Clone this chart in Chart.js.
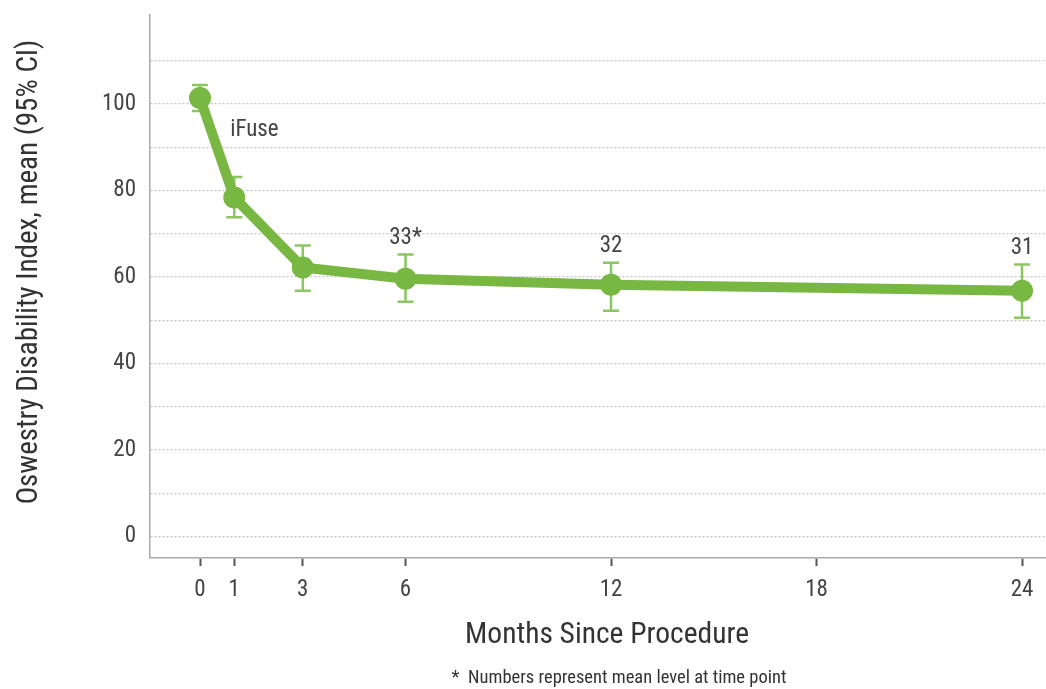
<!DOCTYPE html>
<html><head><meta charset="utf-8">
<script src="https://cdn.jsdelivr.net/npm/chart.js@4"></script>
<style>html,body{margin:0;padding:0;background:#fff;}#wrap{width:1046px;height:689px;position:relative;}</style>
</head><body><div id="wrap"><canvas id="c" width="1046" height="689"></canvas></div>
<script>
const months = [0, 1, 3, 6, 12, 24];
const meanODI = [101.4, 78.4, 62.2, 59.6, 58.2, 56.8];
const ciUpper = [104.4, 83.1, 67.3, 65.2, 63.3, 62.9];
const ciLower = [98.4, 73.8, 56.8, 54.3, 52.2, 50.6];
const xTickValues = [0, 1, 3, 6, 12, 18, 24];
const yGridValues = [0, 10, 20, 30, 40, 50, 60, 70, 80, 90, 100, 110];
const yLabelValues = [0, 20, 40, 60, 80, 100];
const pointLabels = ['', '', '', '33*', '32', '31'];
const seriesName = 'iFuse';
const xTitle = 'Months Since Procedure';
const yTitle = 'Oswestry Disability Index, mean (95% CI)';
const footnote = '*  Numbers represent mean level at time point';

const FONT = '"Liberation Sans Narrow", "Roboto Condensed", "Liberation Sans", Arial, sans-serif';
const GREEN = '#79b743';
const GREEN_LIGHT = '#8cc660';
const TXT = '#444444';

const errorBars = {
  id: 'errorBars',
  beforeDatasetsDraw(chart) {
    const {ctx, scales:{x, y}} = chart;
    ctx.save();
    ctx.strokeStyle = GREEN_LIGHT;
    ctx.lineWidth = 2.5;
    months.forEach((m, i) => {
      const px = x.getPixelForValue(m);
      const t = y.getPixelForValue(ciUpper[i]);
      const b = y.getPixelForValue(ciLower[i]);
      ctx.beginPath();
      ctx.moveTo(px, t); ctx.lineTo(px, b);
      ctx.moveTo(px - 8, t); ctx.lineTo(px + 8, t);
      ctx.moveTo(px - 8, b); ctx.lineTo(px + 8, b);
      ctx.stroke();
    });
    ctx.restore();
  },
  afterDatasetsDraw(chart) {
    const {ctx, scales:{x, y}} = chart;
    ctx.save();
    ctx.fillStyle = TXT;
    ctx.font = '23px ' + FONT;
    ctx.textAlign = 'center';
    ctx.textBaseline = 'bottom';
    months.forEach((m, i) => {
      if (!pointLabels[i]) return;
      const px = x.getPixelForValue(m);
      const t = y.getPixelForValue(ciUpper[i]);
      ctx.fillText(pointLabels[i], px, t - 5);
    });
    ctx.textAlign = 'left';
    ctx.textBaseline = 'middle';
    ctx.fillText(seriesName, x.getPixelForValue(0.88), y.getPixelForValue(94));
    // axis titles
    ctx.fillStyle = '#333';
    ctx.textAlign = 'center';
    ctx.font = '29.5px ' + FONT;
    ctx.fillText(xTitle, 607, 636);
    ctx.save();
    ctx.translate(30, 272);
    ctx.rotate(-Math.PI / 2);
    ctx.font = '29px ' + FONT;
    ctx.fillText(yTitle, 0, 0);
    ctx.restore();
    // footnote
    ctx.font = '18.5px ' + FONT;
    ctx.fillText(footnote, 619, 678);
    ctx.restore();
  }
};

new Chart(document.getElementById('c'), {
  type: 'line',
  data: {
    datasets: [{
      label: seriesName,
      data: months.map((m, i) => ({x: m, y: meanODI[i]})),
      borderColor: GREEN,
      backgroundColor: GREEN,
      borderWidth: 10,
      pointRadius: 11,
      pointBackgroundColor: GREEN,
      pointBorderWidth: 0,
      tension: 0,
      fill: false
    }]
  },
  options: {
    responsive: false,
    animation: false,
    devicePixelRatio: 1,
    layout: {autoPadding: false, padding: {top: 15, right: 0, left: 0, bottom: 32}},
    plugins: {legend: {display: false}, tooltip: {enabled: false}},
    scales: {
      x: {
        type: 'linear',
        min: -1.46, max: 24.7,
        afterBuildTicks(s) { s.ticks = xTickValues.map(v => ({value: v})); },
        afterFit(s) { s.height = 99; s.paddingLeft = 0; s.paddingRight = 0; },
        grid: {drawOnChartArea: false, drawTicks: true, tickLength: 8, tickWidth: 2, tickColor: '#555'},
        border: {color: '#aaaaaa', width: 1.5},
        ticks: {color: TXT, font: {family: FONT, size: 23}, padding: 10, maxRotation: 0, autoSkip: false},
        title: {display: false}
      },
      y: {
        min: -5, max: 120.6,
        afterBuildTicks(s) { s.ticks = yGridValues.map(v => ({value: v})); },
        afterFit(s) { s.width = 150; s.paddingTop = 0; s.paddingBottom = 0; },
        ticks: {color: TXT, font: {family: FONT, size: 23}, padding: 14,
          callback: v => yLabelValues.includes(v) ? String(v) : ''},
        grid: {drawTicks: false, lineWidth: 1.2, color: '#c4c4c4'},
        border: {color: '#aaaaaa', width: 1.5, dash: [2, 2]},
        title: {display: false}
      }
    }
  },
  plugins: [errorBars]
});
</script></body></html>
